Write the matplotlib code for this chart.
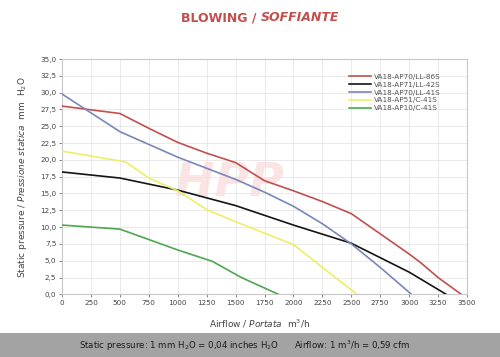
import matplotlib
matplotlib.use("Agg")
import matplotlib.pyplot as plt
from matplotlib.ticker import FuncFormatter, MultipleLocator

names = ["VA18-AP70/LL-86S", "VA18-AP71/LL-42S", "VA18-AP70/LL-41S",
         "VA18-AP51/C-41S", "VA18-AP10/C-41S"]
colors = ["#c0504d", "#141414", "#7a86b8", "#eeee66", "#4ea64e"]

red_x = [0, 500, 750, 1000, 1250, 1500, 1750, 2000, 2250, 2500, 2750, 3000, 3100, 3250, 3450]
red_y = [28.0, 26.9, 24.7, 22.6, 21.0, 19.6, 16.9, 15.4, 13.8, 12.0, 9.0, 6.0, 4.7, 2.5, 0.0]
black_x = [0, 500, 1000, 1500, 2000, 2500, 3000, 3320]
black_y = [18.2, 17.3, 15.5, 13.2, 10.3, 7.6, 3.3, 0.0]
blue_x = [0, 500, 1000, 1500, 1750, 2000, 2250, 2500, 2750, 3020]
blue_y = [29.8, 24.2, 20.4, 17.1, 15.2, 13.1, 10.5, 7.5, 4.0, 0.0]
yellow_x = [0, 550, 750, 1000, 1250, 1500, 2000, 2250, 2550]
yellow_y = [21.3, 19.7, 17.3, 15.4, 12.6, 10.8, 7.4, 4.0, 0.0]
green_x = [0, 500, 1000, 1300, 1550, 1870]
green_y = [10.3, 9.7, 6.6, 4.9, 2.5, 0.0]

series_x = [red_x, black_x, blue_x, yellow_x, green_x]
series_y = [red_y, black_y, blue_y, yellow_y, green_y]

fig = plt.figure(figsize=(5.0, 3.57), dpi=100)
fig.patch.set_facecolor("#ffffff")
ax = fig.add_axes([0.124, 0.1756, 0.81, 0.659])
ax.set_facecolor("#ffffff")

# watermark
ax.text(1450, 16.5, "HPP", fontsize=34, fontstyle="italic", fontweight="bold",
        color="#f4c4c4", alpha=0.45, ha="center", va="center", zorder=0)

for x, y, c, n in zip(series_x, series_y, colors, names):
    ax.plot(x, y, color=c, lw=1.2, label=n, zorder=3)

ax.set_xlim(0, 3500)
ax.set_ylim(0, 35)
ax.xaxis.set_major_locator(MultipleLocator(250))
ax.yaxis.set_major_locator(MultipleLocator(2.5))
ax.yaxis.set_major_formatter(FuncFormatter(lambda v, p: f"{v:.1f}".replace(".", ",")))
ax.grid(True, color="#e6e6e6", lw=0.6, zorder=0)
for s in ax.spines.values():
    s.set_color("#c8c8c8")
    s.set_linewidth(0.8)
ax.tick_params(labelsize=5.2, colors="#555555", length=2, width=0.5, pad=2)
for lbl in ax.get_xticklabels() + ax.get_yticklabels():
    lbl.set_color("#444444")

leg = ax.legend(loc="upper right", bbox_to_anchor=(0.95, 0.965), frameon=False,
                fontsize=5.2, handlelength=3.0, handletextpad=0.4,
                labelspacing=0.25, labelcolor="#555555")

fig.text(0.045, 0.505, "Static pressure / $\\it{Pressione\\ statica}$  mm  H$_2$O",
         rotation=90, ha="center", va="center", fontsize=6.5, color="#444444")
fig.text(0.52, 0.093, "Airflow / $\\it{Portata}$  m$^3$/h", ha="center", va="center",
         fontsize=6.5, color="#444444")

fig.text(0.522, 0.95, "BLOWING / ", ha="right", va="center", fontsize=9,
         fontweight="bold", color="#c0504d")
fig.text(0.522, 0.95, "SOFFIANTE", ha="left", va="center", fontsize=9,
         fontweight="bold", fontstyle="italic", color="#c0504d")

band = plt.Rectangle((0, 0), 1, 0.067, transform=fig.transFigure,
                     facecolor="#a3a3a3", edgecolor="none", zorder=0)
fig.patches.append(band)
fig.text(0.49, 0.03,
         "Static pressure: 1 mm H$_2$O = 0,04 inches H$_2$O      Airflow: 1 m$^3$/h = 0,59 cfm",
         ha="center", va="center", fontsize=6.2, color="#1a1a1a")

fig.savefig("out.png", dpi=100)
